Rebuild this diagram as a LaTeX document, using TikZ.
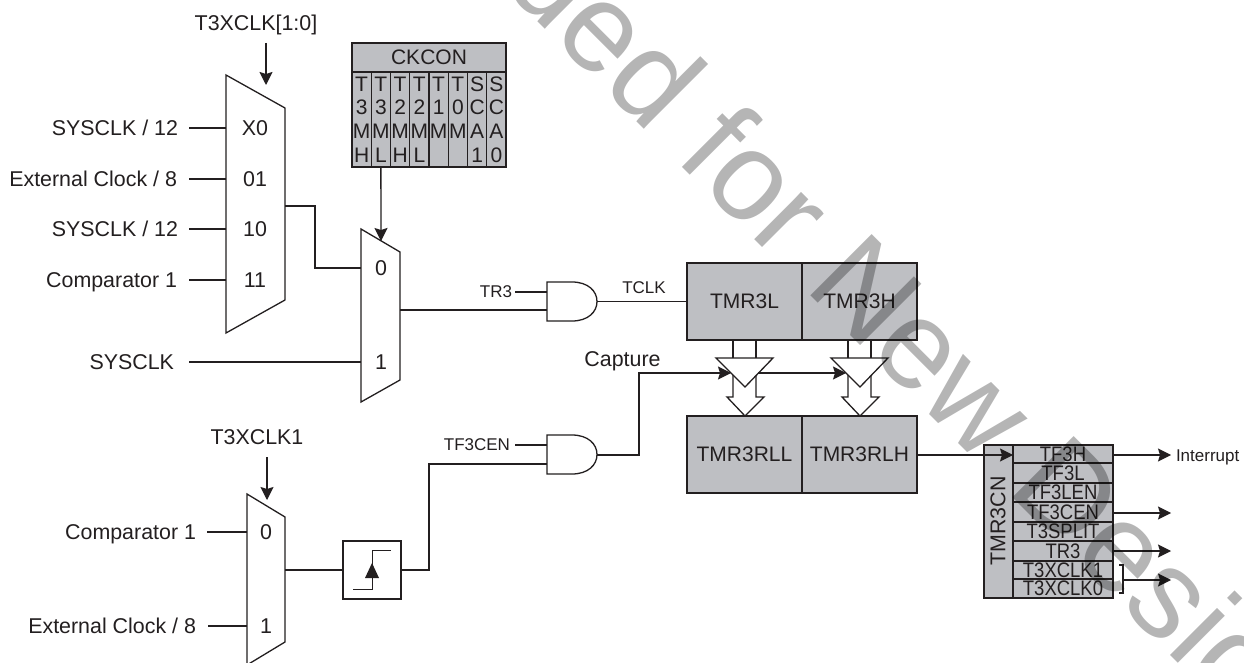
\documentclass[tikz,border=0pt]{standalone}
\usepackage{fontspec}
\setmainfont{Liberation Sans}
\usetikzlibrary{arrows.meta}
\definecolor{ink}{HTML}{231F20}
\definecolor{regfill}{HTML}{BEBFC3}
\tikzset{
  x=1pt,y=-1pt,
  wire/.style={draw=ink,line width=1.3pt},
  arw/.style={wire,-{Stealth[length=13pt,width=13pt,inset=2pt]}},
  shapeline/.style={draw=ink,line width=1.3pt,fill=white,line join=miter},
  reg/.style={draw=ink,line width=1.3pt,fill=regfill,inner sep=0pt,outer sep=0pt,text=ink,font=\fontsize{21}{24}\selectfont,align=center},
  big/.style={inner sep=0pt,outer sep=0pt,text=ink,font=\fontsize{21.4}{24}\selectfont},
  small/.style={inner sep=0pt,outer sep=0pt,text=ink,font=\fontsize{17}{20}\selectfont},
}
\newcommand{\cn}[1]{\scalebox{.88}[1]{#1}}
\begin{document}
\begin{tikzpicture}
\useasboundingbox (0,0) rectangle (1244,663);
\fill[white] (0,0) rectangle (1244,663);

% ports
\coordinate (s1a) at (189,128); \coordinate (m1i0) at (226,128);
\coordinate (s1b) at (189,179); \coordinate (m1i1) at (226,179);
\coordinate (s1c) at (189,229); \coordinate (m1i2) at (226,229);
\coordinate (s1d) at (189,280); \coordinate (m1i3) at (226,280);
\coordinate (m1o) at (285,206); \coordinate (m2i0) at (361,268);
\coordinate (s2) at (189,362); \coordinate (m2i1) at (361,362);
\coordinate (m2o) at (400,310); \coordinate (a1b) at (547,310);
\coordinate (tr3s) at (515,292); \coordinate (a1a) at (547,292);
\coordinate (a1o) at (597,301.5);
\coordinate (a2o) at (597,455);
\coordinate (tfs) at (515,445); \coordinate (a2a) at (547,445);
\coordinate (a2b) at (547,464);
\coordinate (s3a) at (207,532); \coordinate (m3i0) at (247,532);
\coordinate (s3b) at (208,626); \coordinate (m3i1) at (247,626);
\coordinate (m3o) at (285,570);
\coordinate (sel1a) at (266,43); \coordinate (sel1b) at (266,85);
\coordinate (sel3a) at (267,457); \coordinate (sel3b) at (267,500);
\coordinate (ckb) at (381,241);
\coordinate (capin) at (731,373); \coordinate (capout) at (758,373); \coordinate (capin2) at (846,373);
\coordinate (tf3hin) at (1013,455);
\coordinate (out1) at (1171,455); \coordinate (out2) at (1171,513); \coordinate (out3) at (1171,551); \coordinate (out4) at (1171,580);
\coordinate (outs2) at (1113,513); \coordinate (outs3) at (1113,551); \coordinate (outs4) at (1123,580);

% muxes
\draw[shapeline] (226,75) -- (285,108) -- (285,300) -- (226,333) -- cycle;
\draw[shapeline] (361,229) -- (400,252) -- (400,380) -- (361,402) -- cycle;
\draw[shapeline] (247,494) -- (285,517) -- (285,642) -- (247,665) -- cycle;

% and gates
\draw[shapeline] (547,282) -- (572,282) .. controls (588,282) and (597,291) .. (597,301.5) .. controls (597,312) and (588,321) .. (572,321) -- (547,321) -- cycle;
\draw[shapeline] (547,435) -- (572,435) .. controls (588,435) and (597,444) .. (597,454.5) .. controls (597,465) and (588,474) .. (572,474) -- (547,474) -- cycle;

% timer registers
\node[reg,minimum width=115pt,minimum height=77pt] (tl) at (744.5,301.5) {TMR3L};
\node[reg,minimum width=115pt,minimum height=77pt] (th) at (859.5,301.5) {TMR3H};
\node[reg,minimum width=115pt,minimum height=77pt] (rl) at (744.5,454.5) {TMR3RLL};
\node[reg,minimum width=115pt,minimum height=77pt] (rh) at (859.5,454.5) {TMR3RLH};

% bus arrows and latches
\foreach \c/\n in {745/a,860/b}{
  \draw[wire] (\c-12,340) -- (\c-12,360) (\c+11,340) -- (\c+11,360);
  \draw[shapeline] (\c-12,375) -- (\c-12,397) -- (\c-18,397) -- (\c,416) -- (\c+19,397) -- (\c+11,397) -- (\c+11,375);
  \draw[shapeline] (\c-29,358) -- (\c+28,358) -- (\c,387) -- cycle;
}

% CKCON
\node[reg,minimum width=154pt,minimum height=29pt] (ckh) at (429,57.5) {CKCON};
\foreach \i/\t in {0/T\\3\\M\\H,1/T\\3\\M\\L,2/T\\2\\M\\H,3/T\\2\\M\\L,4/T\\1\\M\\~,5/T\\0\\M\\~,6/S\\C\\A\\1,7/S\\C\\A\\0}{
  \node[reg,minimum width=19.25pt,minimum height=95pt,font=\fontsize{21}{23.7}\selectfont] (ck\i) at (361.6+\i*19.25,119.5) {\t};
}

% TMR3CN
\node[reg,minimum width=29pt,minimum height=153pt] (cnv) at (998.5,521.5) {};
\node[big,rotate=90] (cnl) at (998,521) {TMR3CN};
\node[reg,minimum width=100pt,minimum height=18pt] (r0) at (1063,454) {\cn{TF3H}};
\node[reg,minimum width=100pt,minimum height=20pt] (r1) at (1063,473) {\cn{TF3L}};
\node[reg,minimum width=100pt,minimum height=19pt] (r2) at (1063,492.5) {\cn{TF3LEN}};
\node[reg,minimum width=100pt,minimum height=20pt] (r3) at (1063,512) {\cn{TF3CEN}};
\node[reg,minimum width=100pt,minimum height=19pt] (r4) at (1063,531.5) {\cn{T3SPLIT}};
\node[reg,minimum width=100pt,minimum height=20pt] (r5) at (1063,551) {\cn{TR3}};
\node[reg,minimum width=100pt,minimum height=18pt] (r6) at (1063,570) {\cn{T3XCLK1}};
\node[reg,minimum width=100pt,minimum height=19pt] (r7) at (1063,588.5) {\cn{T3XCLK0}};

% schmitt box
\node[draw=ink,line width=1.3pt,fill=white,minimum width=58pt,minimum height=58pt,inner sep=0pt,outer sep=0pt] (sch) at (372,570) {};
\draw[draw=ink,line width=1pt] (353,589) -- (372,589) -- (372,550) -- (391,550);
\fill[ink] (372,563) -- (379,578) -- (365,578) -- cycle;

% labels
\node[big,anchor=base] (lt1) at (256,31) {T3XCLK[1:0]};
\node[big,anchor=base east] (l1) at (178,135.5) {SYSCLK / 12};
\node[big,anchor=base east] (l2) at (177,186.5) {External Clock / 8};
\node[big,anchor=base east] (l3) at (178,236.5) {SYSCLK / 12};
\node[big,anchor=base east] (l4) at (177,287.5) {Comparator 1};
\node[big,anchor=base east] (l5) at (174,369.5) {SYSCLK};
\node[big,anchor=base] (lt3) at (257,444.5) {T3XCLK1};
\node[big,anchor=base east] (l6) at (196,539.5) {Comparator 1};
\node[big,anchor=base east] (l7) at (196,633.5) {External Clock / 8};
\node[big,anchor=base] (mx0) at (255,135.5) {X0};
\node[big,anchor=base] (mx1) at (255,186.5) {01};
\node[big,anchor=base] (mx2) at (255,236.5) {10};
\node[big,anchor=base] (mx3) at (255,287.5) {11};
\node[big,anchor=base] (my0) at (381,275.5) {0};
\node[big,anchor=base] (my1) at (381,369.5) {1};
\node[big,anchor=base] (mz0) at (266,539.5) {0};
\node[big,anchor=base] (mz1) at (266,633.5) {1};
\node[small,anchor=base east] (ltr3) at (512,297) {TR3};
\node[small,anchor=base] (ltclk) at (644,293) {TCLK};
\node[big,anchor=base] (lcap) at (622.5,366) {Capture};
\node[small,anchor=base east] (ltf) at (510,450) {TF3CEN};
\node[small,anchor=base west] (lint) at (1176,461) {Interrupt};

% connectors
\draw[wire] (s1a) -- (m1i0);
\draw[wire] (s1b) -- (m1i1);
\draw[wire] (s1c) -- (m1i2);
\draw[wire] (s1d) -- (m1i3);
\draw[wire] (m1o) -- (315,206) -- (315,268) -- (m2i0);
\draw[wire] (s2) -- (m2i1);
\draw[wire] (m2o) -- (a1b);
\draw[wire] (tr3s) -- (a1a);
\draw[wire] (a1o) -- (tl.west |- a1o);
\draw[wire] (s3a) -- (m3i0);
\draw[wire] (s3b) -- (m3i1);
\draw[wire] (m3o) -- (sch.west);
\draw[wire] (sch.east) -- (429,570) -- (429,464) -- (a2b);
\draw[wire] (tfs) -- (a2a);
\draw[arw] (a2o) -- (639,455) -- (639,373) -- (capin);
\draw[arw] (capout) -- (capin2);
\draw[arw] (sel1a) -- (sel1b);
\draw[arw] (sel3a) -- (sel3b);
\draw[arw] (ck1.south) -- (ckb);
\draw[arw] (rh.east |- tf3hin) -- (tf3hin);
\draw[arw] (r0.east |- out1) -- (out1);
\draw[arw] (outs2) -- (out2);
\draw[arw] (outs3) -- (out3);
\draw[arw] (outs4) -- (out4);
\draw[draw=ink,line width=1.3pt] (1119,565) -- (1123,565) -- (1123,593) -- (1119,593);

% watermark
\node[inner sep=0pt,outer sep=0pt,anchor=base west,rotate=-45,text=black,text opacity=.29,font=\fontsize{126}{126}\selectfont] (wm) at (501,-14) {ded for New Desig};
\end{tikzpicture}
\end{document}
